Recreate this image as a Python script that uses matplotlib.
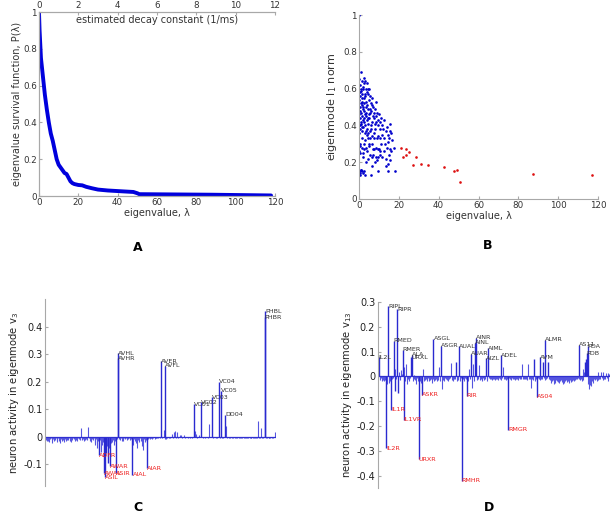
import numpy as np
import matplotlib.pyplot as plt
import matplotlib.ticker as ticker

# ---- panel A: survival function of eigenvalues
lam_surv = [0, 0.3, 1, 2, 3, 4, 5, 6, 7, 8, 9, 10, 11, 12, 13, 14, 15, 16, 17,
            18, 20, 22, 24, 27, 30, 35, 43, 48, 50, 51, 88, 118]
p_surv = [1.0, 0.9, 0.75, 0.65, 0.55, 0.47, 0.40, 0.34, 0.30, 0.25, 0.20, 0.17,
          0.155, 0.14, 0.125, 0.12, 0.10, 0.08, 0.07, 0.065, 0.06, 0.058, 0.05,
          0.042, 0.035, 0.03, 0.025, 0.022, 0.015, 0.01, 0.007, 0.003]

# ---- panel B: eigenvalue vs l1 norm
lam_blue = [0.2, 0.5, 0.8, 0.3, 0.6, 0.1, 0.9, 0.4, 0.7, 0.2, 0.5, 0.8, 0.3, 0.6, 0.1, 0.4, 0.7, 0.2, 0.5, 0.9, 0.3, 0.6, 0.4,
            1.2, 1.5, 1.8, 1.1, 1.4, 1.7, 1.3, 1.6, 1.9, 1.2, 1.5, 1.8, 1.1, 1.4, 1.7, 1.3, 1.6, 1.9, 1.2, 1.5, 1.8,
            2.3, 2.6, 2.1, 2.8, 2.4, 2.7, 2.2, 2.5, 2.9, 2.3, 2.6, 2.1, 2.8, 2.4, 2.7, 2.2, 2.5, 2.9,
            3.2, 3.5, 3.8, 3.1, 3.4, 3.7, 3.3, 3.6, 3.9, 3.2, 3.5, 3.8, 3.1, 3.4, 3.7,
            4.2, 4.6, 4.4, 4.8, 4.1, 4.5, 4.9, 4.3, 4.7, 4.2, 4.6, 4.4, 4.8, 4.1, 4.5,
            5.2, 5.5, 5.8, 5.3, 5.6, 5.1, 5.9, 5.4, 5.7, 5.2, 5.5, 5.8,
            6.3, 6.6, 6.1, 6.8, 6.4, 6.2, 6.7, 6.5, 6.9, 6.3, 6.6,
            7.2, 7.6, 7.4, 7.8, 7.3, 7.7, 7.5, 7.1, 7.9,
            8.4, 8.2, 8.7, 8.5, 8.1, 8.8, 8.3, 8.6, 8.9,
            9.2, 9.6, 9.4, 9.8, 9.3, 9.7, 9.5,
            10.2, 10.6, 10.4, 10.8, 10.3, 10.7, 10.5,
            11.3, 11.7, 11.5, 11.2, 11.8,
            12.4, 12.2, 12.7, 12.5,
            13.5, 13.2, 13.8, 13.4,
            14.3, 14.7, 14.5, 14.2, 14.6, 14.4,
            15.4, 15.7, 15.2, 15.6, 15.3, 15.8,
            16.2, 16.5, 16.3,
            17.6, 18.0,
            0.0]
norm_blue = [0.65, 0.62, 0.60, 0.58, 0.56, 0.54, 0.52, 0.50, 0.48, 0.46, 0.44, 0.42, 0.40, 0.38, 0.36, 0.30, 0.29, 0.26, 0.25, 0.16, 0.15, 0.14, 0.13,
             0.69, 0.64, 0.61, 0.59, 0.57, 0.55, 0.53, 0.51, 0.49, 0.47, 0.45, 0.43, 0.41, 0.39, 0.37, 0.33, 0.28, 0.25, 0.16, 0.15, 0.14,
             0.66, 0.63, 0.60, 0.57, 0.55, 0.52, 0.50, 0.48, 0.46, 0.44, 0.42, 0.39, 0.36, 0.30, 0.27, 0.23, 0.15, 0.13,
             0.64, 0.60, 0.58, 0.56, 0.53, 0.50, 0.47, 0.45, 0.43, 0.40, 0.37, 0.35, 0.32, 0.28, 0.20,
             0.63, 0.60, 0.57, 0.54, 0.51, 0.49, 0.46, 0.44, 0.41, 0.38, 0.36, 0.33, 0.29, 0.26, 0.22,
             0.60, 0.56, 0.52, 0.49, 0.47, 0.44, 0.40, 0.37, 0.33, 0.30, 0.24, 0.13,
             0.55, 0.51, 0.48, 0.45, 0.42, 0.38, 0.34, 0.30, 0.27, 0.23, 0.18,
             0.50, 0.47, 0.44, 0.41, 0.36, 0.33, 0.27, 0.24, 0.20,
             0.53, 0.49, 0.45, 0.42, 0.38, 0.33, 0.28, 0.23, 0.21,
             0.47, 0.43, 0.40, 0.34, 0.27, 0.23, 0.15,
             0.46, 0.42, 0.38, 0.33, 0.27, 0.26, 0.24,
             0.44, 0.40, 0.35, 0.30, 0.23,
             0.43, 0.38, 0.33, 0.26,
             0.37, 0.30, 0.22, 0.18,
             0.39, 0.35, 0.31, 0.28, 0.19, 0.15,
             0.41, 0.37, 0.33, 0.27, 0.24, 0.21,
             0.36, 0.32, 0.26,
             0.28, 0.15,
             1.0]
lam_red = [21.1, 23.5, 22.3, 23.6, 25.1, 28.5, 27.3, 31.0, 34.8, 42.5, 47.9, 49.1, 50.6, 87.6, 117.1]
norm_red = [0.277, 0.271, 0.231, 0.237, 0.257, 0.231, 0.183, 0.192, 0.183, 0.174, 0.152, 0.159, 0.094, 0.137, 0.128]

# ---- panel C: eigenmode v3 (thousandths), 279 neurons
noise_c = [-12, -18, -8, -15, -20, -10, -6, -14, -22, -9, -16, -11, -7, -19, -13, -5, -17, -24, -10, -8,
           -15, -12, -20, -9, -6, -18, -11, -14, -7, -16, -21, -10, -13, -5, -9, -17, -8, -12, -15, -6,
           -10, -14, -7, 30, -12, -9, -16, -5, -11, -8, -13, 35, -6, -10, -15, -20, -8, -12, -7, -30,
           -25, -10, -40, -18, -8, -45, -12, -55, -30, -20, -10, -20, -12, -60, -35, -95, -15, -40, -20, -25,
           -20, -12, -8, -30, -15, -5, -10, 4, 5, -8, -12, -6, -15, -9, -18, -4, -10, -7, -14, -6,
           -9, -5, -12, -8, -14, -6, -30, -10, -18, -25, -8, -40, -12, -20, -6, -15, -35, -10, -50, -8,
           -20, -12, -6, -15, -9, -5, -10, -7, -4, -8, -6, -3, -9, -5, -7, -4, -6, -3, -5, -4,
           3, -5, -2, 25, -6, -8, -10, -4, -3, -6, -2, -5, -3, 8, -4, 15, 20, -3, -5, 18,
           -4, -2, 6, -3, 5, -4, -2, -3, 4, -5, -2, -3, -4, -2, -3, -5, -2, -4, -3, -2,
           -3, 20, 10, -4, -2, 5, -3, -2, -4, -3, -2, -5, -3, -4, -2, -3, -4, -2, 45, -3,
           -2, -4, -3, -5, -2, -3, -4, -2, -6, -3, -2, -4, -3, -5, -2, -4, -3, -2, 40, -3,
           -5, -3, -4, -6, -3, -2, -5, -4, -3, -6, -4, -2, -5, -3, -4, -6, -3, -5, -4, -2,
           -6, -4, -3, -5, -7, -4, -3, -6, -5, -4, -3, -6, -4, -5, -3, -4, -5, 55, -4, -6,
           -3, 30, -4, -5, -3, -4, -5, -6, -4, -3, -5, -4, -6, -3, -5, -4, -3, -2, 15]
names_c = ['AVHL', 'AVHR', 'AVER', 'AVFL', 'VC01', 'VC02', 'VC03', 'VC04', 'VC05', 'DD04', 'PHBR', 'PHBL',
           'ADFR', 'AWAL', 'ASIL', 'AWAR', 'ASIR', 'AIAL', 'AIAR']
idx_c = [88, 89, 140, 145, 181, 189, 202, 211, 213, 218, 266, 267,
         65, 71, 73, 79, 86, 106, 123]
val_c = [0.303, 0.285, 0.273, 0.257, 0.118, 0.124, 0.142, 0.200, 0.167, 0.079, 0.434, 0.455,
         -0.069, -0.133, -0.148, -0.109, -0.133, -0.139, -0.115]

# ---- panel D: eigenmode v13 (thousandths), 279 neurons
noise_d = [-10, -15, -12, -8, -18, -14, -20, -10, -16, -12, -30, -18, -25, -10, -20, -15, -12, -8, 20, 30,
           -60, -10, 25, -65, 20, -15, -10, 25, 10, -12, -8, 40, -20, 50, -30, -10, -12, -20, -8, -15,
           -12, -20, -10, 5, -15, -30, -8, -20, -12, -15, -18, -25, -10, 30, -20, -12, -15, -10, -18, -8,
           -12, -20, -15, -10, -25, -12, -8, -20, -15, -10, -18, -12, -15, 40, -20, -12, -50, -10, -15, -20,
           -8, -12, -15, -10, -20, -12, -8, 55, -15, -10, -18, -12, -10, 60, -20, -12, -15, -10, -18, -8,
           -12, -15, -10, -20, -8, -12, -15, -10, -18, 30, -12, -15, -10, -48, 50, -20, -12, -8, -15, -10,
           -12, 45, -15, -10, -18, -12, -8, -15, -10, -12, -18, -10, -15, -8, -12, -10, -15, -8, -12, -10,
           -15, -8, -12, -10, -15, -8, -12, -10, -15, -8, 40, -10, -12, -8, -15, -10, -12, -8, -10, -15,
           -12, -8, -10, -12, -15, -8, -10, -12, -15, -8, -10, -12, -8, 50, -10, -12, -8, -10, -12, -15,
           50, -12, -8, -10, -45, -12, -15, 70, -10, -20, -12, -15, -8, -10, -12, -15, -10, -12, 60, -8,
           -12, -15, -10, -8, 60, -12, -15, -10, -25, -20, -15, -30, -18, -25, -15, -20, -22, -18, -25, -20,
           -15, -22, -30, -18, -25, -20, -15, -22, -18, -25, -20, -15, -22, -18, -15, -20, -12, -15, -10, -12,
           -8, -10, -12, -15, -10, -20, 30, -15, 20, 60, 70, -25, -12, -30, -50, -35, -40, -20, -25, -15,
           -12, -15, -10, -20, 20, -15, -10, -12, 20, -8, -15, 20, -10, -12, 15, -8, -20, 15, 10]
names_d = ['IL2L', 'RIPL', 'RMED', 'RIPR', 'RMER', 'URXL', 'ALA', 'ASGL', 'ASGR', 'AUAL', 'AUAR', 'AINL',
           'AINR', 'AIZL', 'AIML', 'ADEL', 'AVM', 'ALMR', 'AS11', 'PDB', 'PDA',
           'IL2R', 'IL1R', 'IL1VR', 'URXR', 'ASKR', 'RMHR', 'RIR', 'RMGR', 'AS04']
idx_d = [1, 12, 19, 23, 30, 40, 41, 67, 76, 98, 112, 117,
         118, 130, 133, 148, 195, 201, 243, 252, 253,
         10, 16, 31, 49, 53, 101, 107, 157, 192]
val_d = [0.078, 0.283, 0.145, 0.272, 0.108, 0.077, 0.087, 0.152, 0.124, 0.121, 0.092, 0.137,
         0.157, 0.074, 0.114, 0.085, 0.078, 0.148, 0.128, 0.094, 0.121,
         -0.289, -0.135, -0.175, -0.334, -0.074, -0.420, -0.077, -0.215, -0.081]

grey = '#a8a8a8'
txt = '#333333'
fmt = ticker.FuncFormatter(lambda v, p: f'{v:g}')

fig = plt.figure(figsize=(6.13, 5.15), dpi=100)

# A
axA = fig.add_axes([0.0636, 0.6194, 0.385, 0.357])
axA.plot(lam_surv, p_surv, color='#0000dd', lw=2.8, solid_capstyle='round')
axA.set_xlim(0, 120)
axA.set_ylim(0, 1)
axA.set_xticks(range(0, 121, 20))
axA.set_yticks(np.arange(0, 1.01, 0.2))
axA.yaxis.set_major_formatter(fmt)
axA.set_xlabel('eigenvalue, λ', fontsize=7, color=txt, labelpad=1)
axA.set_ylabel('eigenvalue survival function, P(λ)', fontsize=7, color=txt, labelpad=1)
axA.spines['right'].set_visible(False)
axA2 = axA.twiny()
axA2.set_xlim(0, 12)
axA2.set_xticks(range(0, 13, 2))
axA2.spines['right'].set_visible(False)
axA.text(0.5, 0.985, 'estimated decay constant (1/ms)', transform=axA.transAxes,
         ha='center', va='top', fontsize=7, color=txt)
for ax in (axA, axA2):
    for s in ax.spines.values():
        s.set_color(grey)
    ax.tick_params(direction='in', length=2, labelsize=6.3, colors=grey, labelcolor=txt, pad=1.5)

# B
axB = fig.add_axes([0.5856, 0.6136, 0.390, 0.357])
axB.plot(lam_blue, norm_blue, '.', color='#0000cc', ms=3.8, mec='none')
axB.plot(lam_red, norm_red, '.', color='#dd1111', ms=3.8, mec='none')
axB.set_xlim(0, 120)
axB.set_ylim(0, 1)
axB.set_xticks(range(0, 121, 20))
axB.set_yticks(np.arange(0, 1.01, 0.2))
axB.yaxis.set_major_formatter(fmt)
axB.set_xlabel('eigenvalue, λ', fontsize=7, color=txt, labelpad=1)
axB.set_ylabel('eigenmode l$_1$ norm', fontsize=8, color=txt, labelpad=3)
for s in ('top', 'right'):
    axB.spines[s].set_visible(False)
for s in ('left', 'bottom'):
    axB.spines[s].set_color(grey)
axB.tick_params(direction='in', length=2, labelsize=6.3, colors=grey, labelcolor=txt, pad=1.5)


def mode_panel(rect, noise, names, idx, vals, ylim, yticks, ylabel):
    ax = fig.add_axes(rect)
    v = np.array(noise, dtype=float) / 1000.0
    for i, val in zip(idx, vals):
        v[i - 1] = val
    x = np.arange(1, len(v) + 1)
    small = np.abs(v) < 0.06
    ax.vlines(x[small], 0, v[small], color='#5555e0', lw=0.8)
    ax.vlines(x[~small], 0, v[~small], color='#2a2ad0', lw=1.0)
    ax.plot([1, len(v)], [0, 0], color='#3030d0', lw=0.9)
    for name, i, val in zip(names, idx, vals):
        ax.text(i, val, name, fontsize=4.6, ha='left', va='center',
                color='#333333' if val > 0 else '#ee2020')
    ax.set_xlim(0, 280)
    ax.set_ylim(*ylim)
    ax.set_yticks(yticks)
    ax.yaxis.set_major_formatter(fmt)
    ax.set_xticks([])
    for s in ('top', 'right', 'bottom'):
        ax.spines[s].set_visible(False)
    ax.spines['left'].set_color(grey)
    ax.tick_params(direction='in', length=2, labelsize=7, colors=grey, labelcolor='#222222', pad=2)
    ax.set_ylabel(ylabel, fontsize=7.2, color='#222222', labelpad=2)
    return ax


mode_panel([0.0734, 0.0563, 0.377, 0.363], noise_c, names_c, idx_c, val_c,
           (-0.18, 0.5), [-0.1, 0, 0.1, 0.2, 0.3, 0.4], 'neuron activity in eigenmode v$_3$')
mode_panel([0.6166, 0.0524, 0.3785, 0.361], noise_d, names_d, idx_d, val_d,
           (-0.45, 0.3), [-0.4, -0.3, -0.2, -0.1, 0, 0.1, 0.2, 0.3], 'neuron activity in eigenmode v$_{13}$')

for lab, x, y in (('A', 0.225, 0.520), ('B', 0.796, 0.524), ('C', 0.225, 0.0155), ('D', 0.798, 0.0155)):
    fig.text(x, y, lab, fontsize=9, fontweight='bold', ha='center', va='center')

fig.savefig('out.png', dpi=100)
